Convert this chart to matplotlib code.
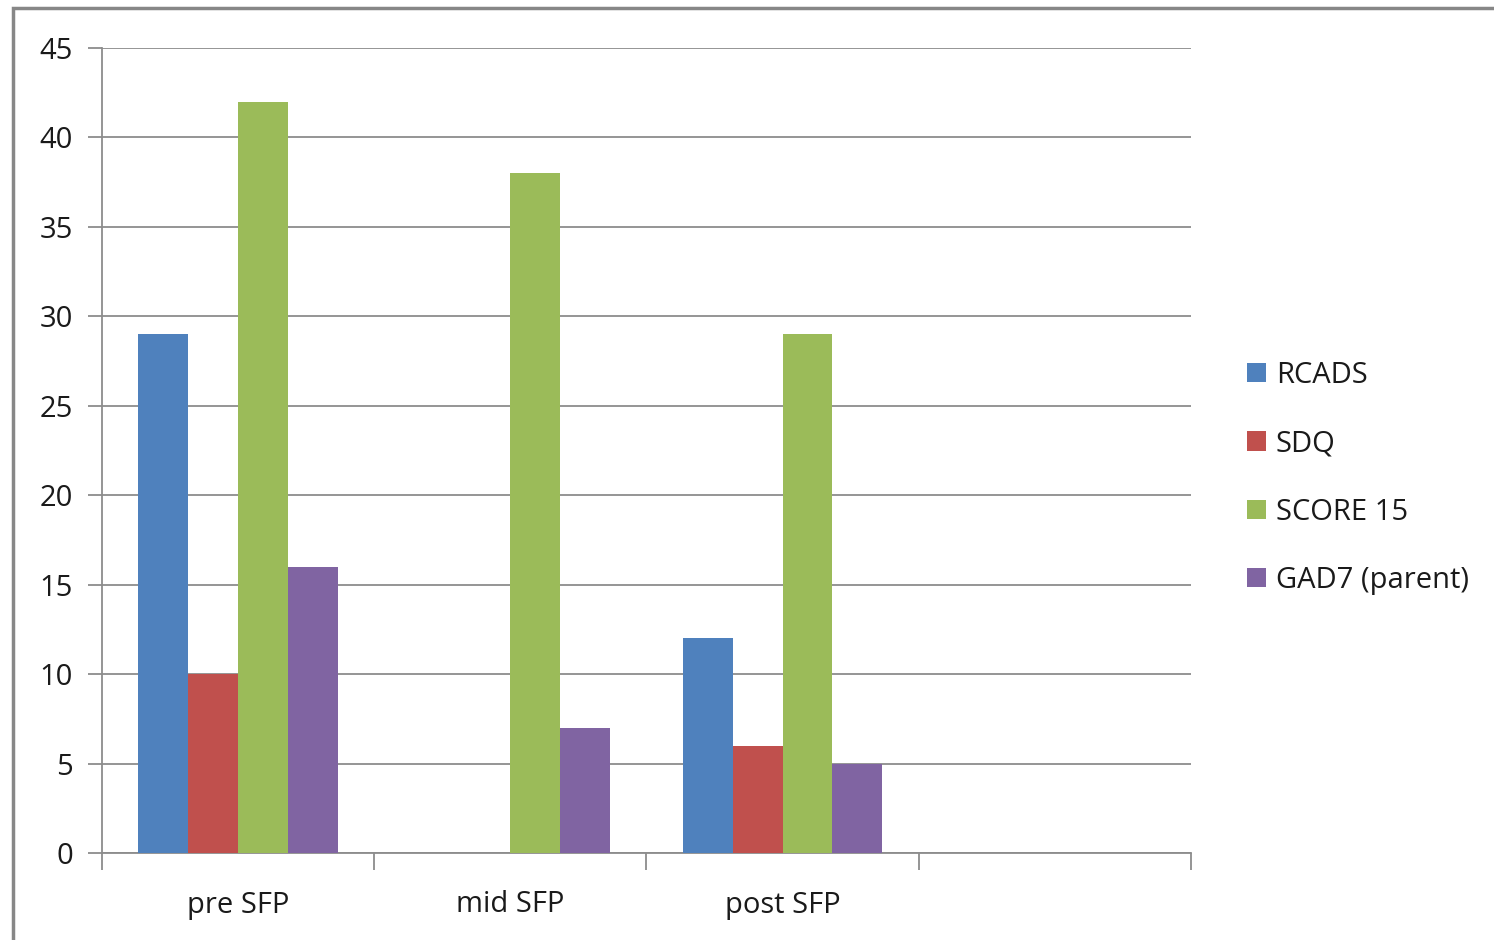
import numpy as np
import matplotlib.pyplot as plt
from matplotlib.patches import Rectangle

plt.rcParams["font.family"] = ["Open Sans", "DejaVu Sans"]

categories = ["pre SFP", "mid SFP", "post SFP", ""]
series_names = ["RCADS", "SDQ", "SCORE 15", "GAD7 (parent)"]
rcads = [29, 0, 12, 0]
sdq = [10, 0, 6, 0]
score15 = [42, 38, 29, 0]
gad7 = [16, 7, 5, 0]
colors = ["#4F81BD", "#C0504D", "#9BBB59", "#8064A2"]

fig = plt.figure(figsize=(14.94, 9.4), dpi=100)
ax = fig.add_axes([102 / 1494, 1 - 853 / 940, (1191 - 102) / 1494, (853 - 48) / 940])

# outer chart border
fig.patches.append(Rectangle((13 / 1494, -0.05), 1.1, 1 - 8 / 940 + 0.05,
                             transform=fig.transFigure, fill=False,
                             edgecolor="#878787", linewidth=2.5))

x = np.arange(len(categories))
bar_w = 0.183
for i, (vals, name) in enumerate(zip([rcads, sdq, score15, gad7], series_names)):
    ax.bar(x + (i - 1.5) * bar_w, vals, width=bar_w, color=colors[i],
           label=name, zorder=3)

ax.set_xlim(-0.5, len(categories) - 0.5)
ax.set_ylim(0, 45)
ax.set_yticks(np.arange(0, 46, 5))
ax.yaxis.grid(True, color="#8c8c8c", linewidth=1.3, zorder=0)
ax.set_axisbelow(True)

ax.set_xticks(x)
ax.set_xticklabels(categories)
ax.set_xticks(np.arange(-0.5, len(categories)), minor=True)
ax.tick_params(axis="x", which="major", length=0, pad=27, labelsize=21,
               labelcolor="#1a1a1a")
ax.tick_params(axis="x", which="minor", length=12, width=1.3, color="#8c8c8c")
ax.tick_params(axis="y", length=10, width=1.3, color="#8c8c8c", pad=11,
               labelsize=21, labelcolor="#1a1a1a")

for side in ["top", "right"]:
    ax.spines[side].set_visible(False)
for side in ["left", "bottom"]:
    ax.spines[side].set_color("#8c8c8c")
    ax.spines[side].set_linewidth(1.3)

ax.legend(loc="center left", bbox_to_anchor=(1.027, 0.466), frameon=False,
          fontsize=21, handlelength=0.65, handleheight=0.65, handletextpad=0.35,
          labelspacing=1.35, labelcolor="#1a1a1a")

fig.savefig("out.png", dpi=100)
